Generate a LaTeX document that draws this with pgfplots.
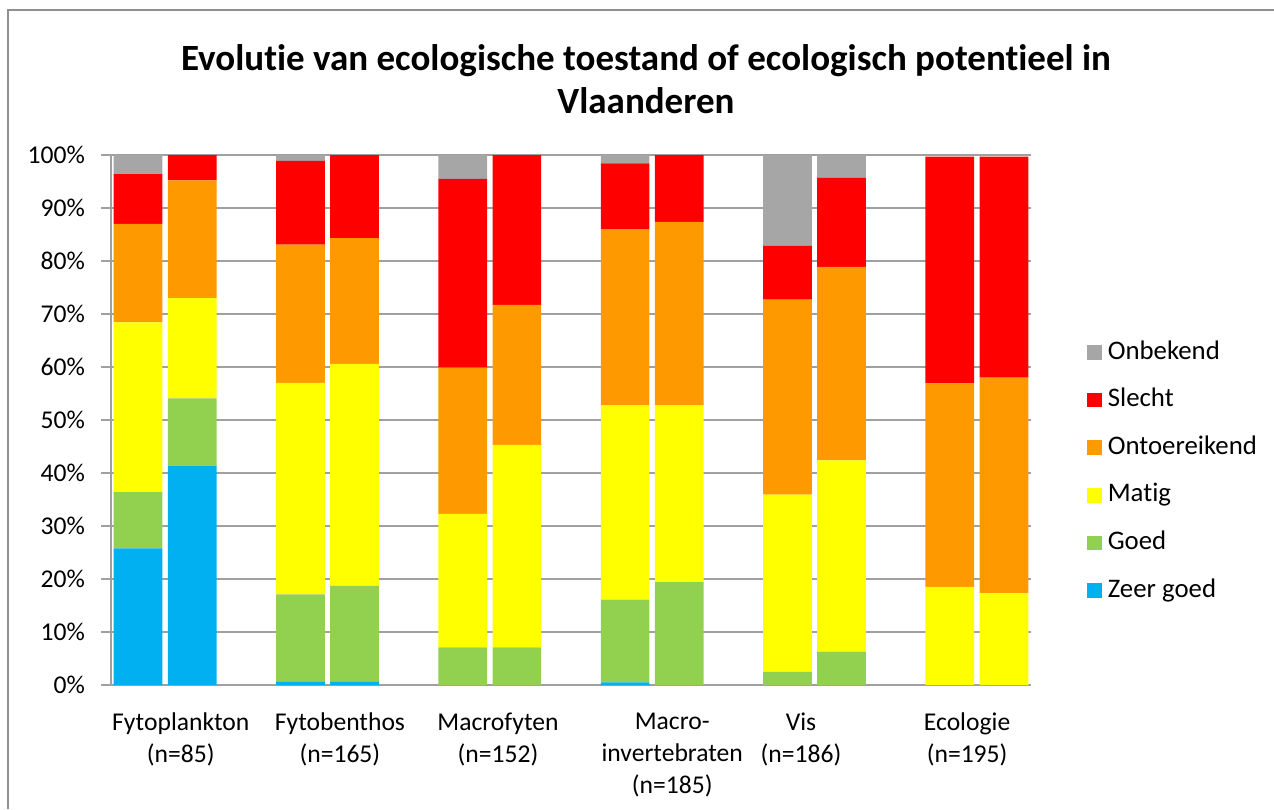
\documentclass[border=0pt]{standalone}
\usepackage{pgfplots}
\pgfplotsset{compat=1.18}
\usepackage{fontspec}
\setmainfont{Carlito}[Ligatures=NoCommon]
\definecolor{cOnb}{HTML}{A6A6A6}
\definecolor{cSle}{HTML}{FF0000}
\definecolor{cOnt}{HTML}{FF9900}
\definecolor{cMat}{HTML}{FFFF00}
\definecolor{cGoe}{HTML}{92D050}
\definecolor{cZee}{HTML}{00B0F0}
\definecolor{cGrid}{HTML}{A0A0A0}
\begin{document}
\begin{tikzpicture}
\useasboundingbox (0,0) rectangle (637pt,-404.5pt);
% chart frame (left and top)
\draw[color=cGrid!90!black, line width=1pt] (4pt,-404.5pt) -- (4pt,-5pt) -- (637pt,-5pt);
% title
\node[anchor=north, align=center, font=\fontsize{18.5}{21.5}\selectfont\bfseries, inner sep=0pt]
  at (323pt,-22pt) {Evolutie van ecologische toestand of ecologisch potentieel in\\Vlaanderen};
\begin{axis}[
  at={(55.5pt,-342.5pt)}, anchor=south west,
  width=460pt, height=265pt, scale only axis,
  ybar stacked, bar width=0.9,
  xmin=-0.5, xmax=16.5,
  ymin=0, ymax=100,
  ytick={0,10,...,100},
  yticklabel={\pgfmathprintnumber{\tick}\%},
  /pgf/number format/assume math mode=true,
  xtick={0.79,3.73,6.65,9.87,12.25,15.32},
  xticklabels={{Fytoplankton\\(n=85)},{Fytobenthos\\(n=165)},{Macrofyten\\(n=152)},{Macro-\\invertebraten\\(n=185)},{Vis\\(n=186)},{Ecologie\\(n=195)}},
  xticklabel style={align=center, font=\fontsize{12.8}{16}\selectfont, anchor=north, yshift=-5.5pt},
  yticklabel style={font=\fontsize{12.8}{15}\selectfont, xshift=-4.5pt},
  major x tick style={draw=none},
  tick align=outside,
  major tick length=5pt,
  ytick style={draw=cGrid, line width=0.6pt},
  ymajorgrids,
  grid style={draw=cGrid, line width=0.6pt},
  separate axis lines,
  axis x line*=bottom, axis y line*=left,
  axis line style={-, draw=cGrid, line width=0.7pt},
  legend style={at={(1.0609,0.4028)}, anchor=west, draw=none, fill=none, inner sep=0pt,
    row sep=12.3pt, font=\fontsize{13.4}{15}\selectfont,
    nodes={inner sep=0pt, text height=9pt, text depth=2.5pt, anchor=west}},
  legend image code/.code={\fill[#1] (0pt,-3.65pt) rectangle (7.3pt,3.65pt); \path (10.2pt,0pt);},
  legend cell align=left,
  reverse legend,
]
\addplot[fill=cZee, draw=none] coordinates {(0,25.8) (1,41.3) (3,0.6) (4,0.6) (6,0) (7,0) (9,0.5) (10,0) (12,0) (13,0) (15,0) (16,0)};
\addlegendentry{Zeer goed}
\addplot[fill=cGoe, draw=none] coordinates {(0,10.6) (1,12.8) (3,16.5) (4,18.1) (6,7.1) (7,7.1) (9,15.6) (10,19.4) (12,2.5) (13,6.3) (15,0) (16,0)};
\addlegendentry{Goed}
\addplot[fill=cMat, draw=none] coordinates {(0,32.0) (1,18.9) (3,39.9) (4,41.9) (6,25.2) (7,38.2) (9,36.7) (10,33.4) (12,33.4) (13,36.1) (15,18.5) (16,17.3)};
\addlegendentry{Matig}
\addplot[fill=cOnt, draw=none] coordinates {(0,18.6) (1,22.2) (3,26.1) (4,23.7) (6,27.6) (7,26.4) (9,33.2) (10,34.6) (12,36.8) (13,36.5) (15,38.4) (16,40.7)};
\addlegendentry{Ontoereikend}
\addplot[fill=cSle, draw=none] coordinates {(0,9.4) (1,4.8) (3,15.8) (4,15.7) (6,35.6) (7,28.3) (9,12.4) (10,12.6) (12,10.2) (13,16.8) (15,42.8) (16,41.7)};
\addlegendentry{Slecht}
\addplot[fill=cOnb, draw=none] coordinates {(0,3.6) (1,0) (3,1.1) (4,0) (6,4.5) (7,0) (9,1.6) (10,0) (12,17.1) (13,4.3) (15,0) (16,0)};
\addlegendentry{Onbekend}
\end{axis}
\end{tikzpicture}
\end{document}
